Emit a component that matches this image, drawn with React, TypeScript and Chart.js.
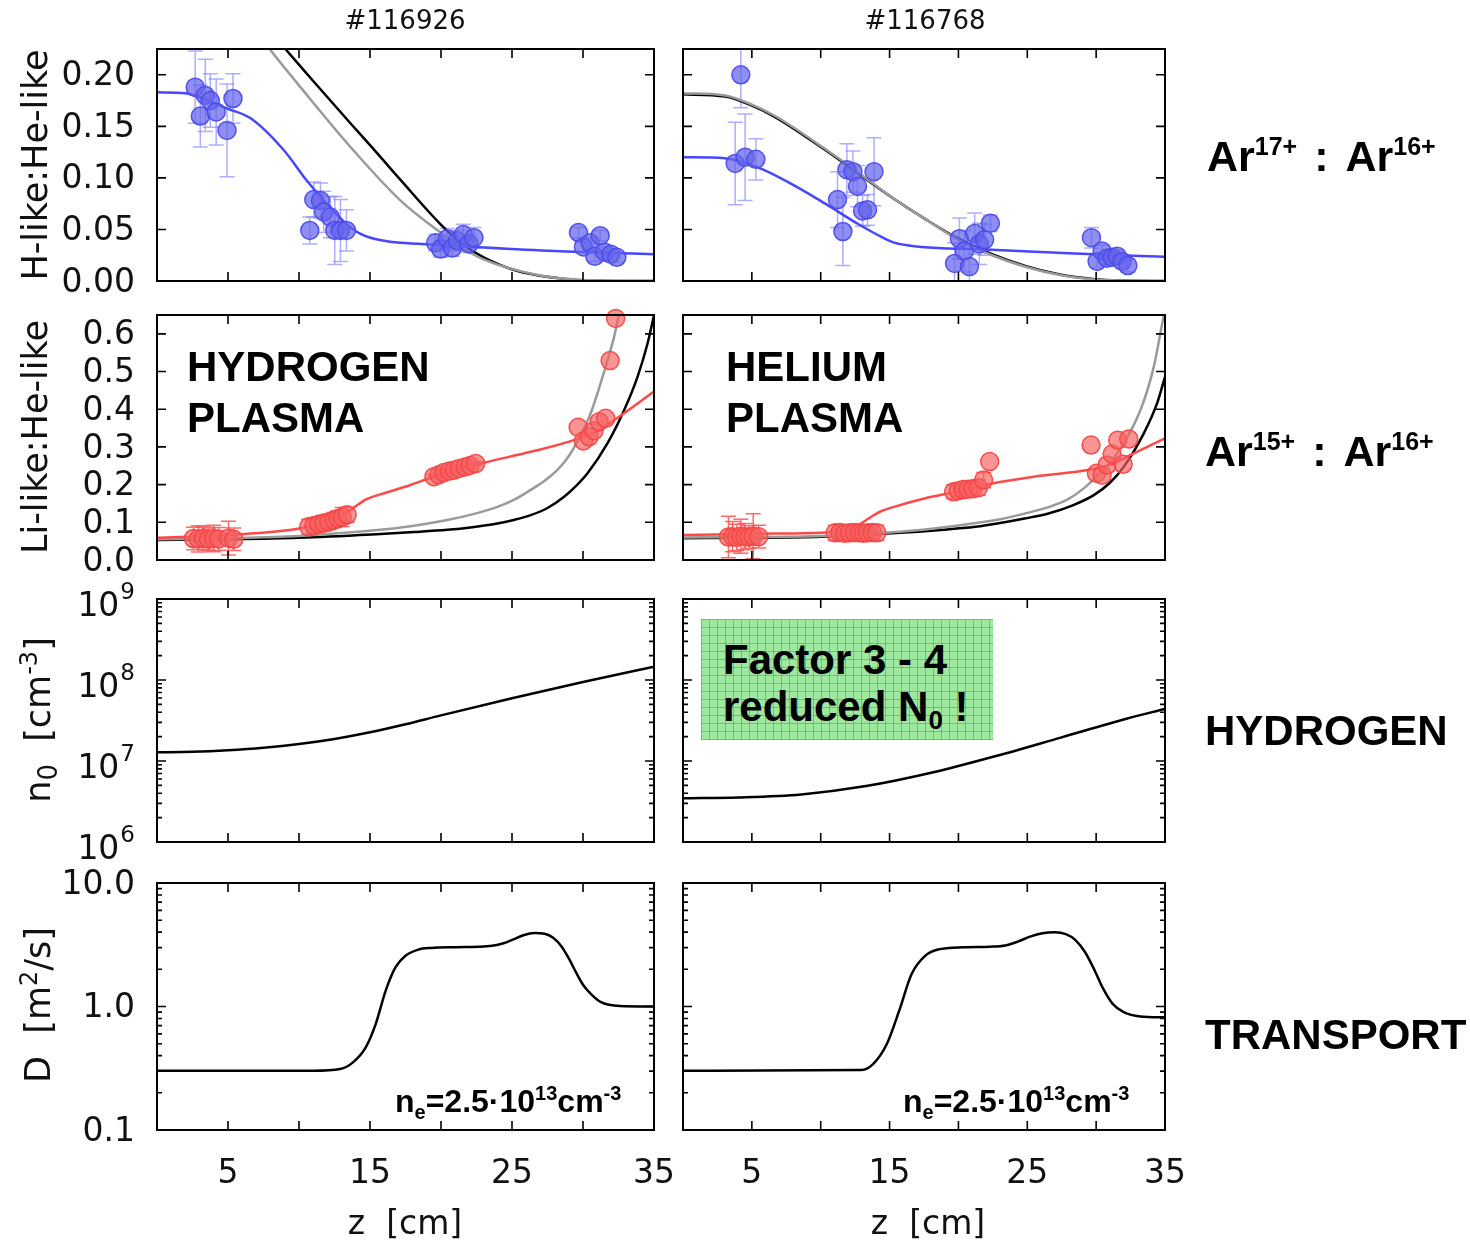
import React, { useEffect, useRef } from 'react';
import { Chart, registerables } from 'chart.js';

Chart.register(...registerables);

const W = 1470;
const H = 1244;

// ---------- axis values ----------
const zTickValues = [5, 10, 15, 20, 25, 30];
const zLabelValues = [5, 15, 25, 35];
const hTickValues = [0.05, 0.1, 0.15, 0.2];
const hLabelValues = [0, 0.05, 0.1, 0.15, 0.2];
const liTickValues = [0.1, 0.2, 0.3, 0.4, 0.5, 0.6];
const liLabelValues = [0, 0.1, 0.2, 0.3, 0.4, 0.5, 0.6];
const n0Decades = [1e6, 1e7, 1e8, 1e9];
const n0Exponents = ['6', '7', '8', '9'];
const dDecades = [0.1, 1, 10];
const dLabelTexts = ['0.1', '1.0', '10.0'];

// ---------- H-like : He-like, #116926 ----------
const hL_z = [2.69, 3.05, 3.4, 3.75, 4.17, 4.93, 5.35, 10.76, 11.04, 11.51, 11.74, 12.21, 12.52, 12.92, 13.34, 19.62, 19.97, 20.44, 20.8, 21.15, 21.57, 21.97, 22.32, 29.68, 30.03, 30.5, 30.83, 31.21, 31.54, 31.96, 32.38];
const hL_v = [0.188, 0.16, 0.18, 0.175, 0.164, 0.146, 0.177, 0.049, 0.079, 0.078, 0.067, 0.062, 0.049, 0.049, 0.049, 0.037, 0.031, 0.041, 0.032, 0.039, 0.045, 0.036, 0.042, 0.047, 0.033, 0.037, 0.024, 0.044, 0.028, 0.026, 0.023];
const hL_e = [0.035, 0.03, 0.035, 0.026, 0.032, 0.045, 0.024, 0.013, 0.017, 0.017, 0.02, 0.02, 0.033, 0.03, 0.02, 0.008, 0.008, 0.01, 0.008, 0.01, 0.01, 0.008, 0.01, 0.005, 0.005, 0.005, 0.005, 0.005, 0.005, 0.005, 0.005];
const hL_fitZ = [0, 2, 3, 5, 6.57, 8.92, 10.57, 12.21, 13.62, 14.3, 15.03, 16, 17.15, 20, 23, 28, 35];
const hL_fitV = [0.183, 0.182, 0.178, 0.167, 0.158, 0.127, 0.097, 0.071, 0.052, 0.046, 0.042, 0.039, 0.037, 0.035, 0.0325, 0.029, 0.026];
const hL_blackZ = [8, 9.04, 11, 13.62, 15.5, 17.15, 19.97, 21.5, 23, 25.4, 28.9, 31, 35];
const hL_blackV = [0.241, 0.225, 0.194, 0.153, 0.124, 0.098, 0.055, 0.036, 0.023, 0.0097, 0.0017, 0.0003, 0];
const hL_grayZ = [7, 7.93, 10.1, 13.62, 17.15, 19.97, 21.5, 23, 26.55, 30, 35];
const hL_grayV = [0.242, 0.225, 0.188, 0.13, 0.078, 0.047, 0.032, 0.021, 0.0065, 0.001, 0];

// ---------- H-like : He-like, #116768 ----------
const hR_z = [3.79, 4.2, 4.51, 5.29, 11.22, 11.61, 11.9, 12.34, 12.67, 13.04, 13.4, 13.87, 19.72, 20.07, 20.43, 20.8, 21.18, 21.52, 21.9, 22.32, 29.66, 30.07, 30.43, 30.8, 31.16, 31.53, 31.89, 32.3];
const hR_v = [0.114, 0.2, 0.12, 0.118, 0.079, 0.048, 0.108, 0.106, 0.092, 0.068, 0.069, 0.106, 0.017, 0.041, 0.029, 0.014, 0.046, 0.036, 0.04, 0.056, 0.042, 0.019, 0.029, 0.022, 0.023, 0.024, 0.019, 0.015];
const hR_e = [0.04, 0.032, 0.042, 0.02, 0.027, 0.033, 0.025, 0.02, 0.02, 0.015, 0.015, 0.033, 0.02, 0.02, 0.02, 0.02, 0.02, 0.02, 0.015, 0.008, 0.01, 0.006, 0.006, 0.006, 0.006, 0.006, 0.006, 0.006];
const hR_fitZ = [0, 3.06, 5.48, 7.9, 10.33, 12.75, 14.45, 15.4, 16.38, 18.5, 21.23, 28, 35];
const hR_fitV = [0.12, 0.119, 0.11, 0.094, 0.075, 0.055, 0.0425, 0.037, 0.0345, 0.032, 0.031, 0.027, 0.0234];
const hR_blackZ = [0, 3.06, 5, 6.69, 10.33, 12.75, 15.17, 17.6, 20, 22.44, 24.86, 27.28, 29.9, 32, 35];
const hR_blackV = [0.181, 0.179, 0.17, 0.159, 0.127, 0.104, 0.081, 0.06, 0.041, 0.026, 0.0146, 0.0065, 0.0018, 0.0005, 0];
const hR_grayZ = [0, 3.06, 5, 6.69, 10.33, 12.75, 15.17, 17.6, 20, 22.44, 24.86, 27.28, 29.9, 32, 35];
const hR_grayV = [0.182, 0.18, 0.171, 0.16, 0.128, 0.105, 0.081, 0.06, 0.04, 0.025, 0.0138, 0.006, 0.0015, 0.0004, 0];

// ---------- Li-like : He-like, #116926 ----------
const liL_z = [2.57, 2.92, 3.27, 3.63, 3.98, 4.34, 5.04, 5.4, 10.68, 11.05, 11.4, 11.75, 12.1, 12.45, 12.75, 13.05, 13.39, 19.5, 19.85, 20.2, 20.6, 20.95, 21.3, 21.7, 22.05, 22.44, 29.66, 30.03, 30.43, 30.78, 31.14, 31.6, 31.91, 32.3];
const liL_v = [0.057, 0.056, 0.058, 0.055, 0.057, 0.056, 0.058, 0.055, 0.088, 0.091, 0.095, 0.098, 0.101, 0.106, 0.11, 0.114, 0.12, 0.221, 0.226, 0.232, 0.236, 0.239, 0.243, 0.247, 0.251, 0.256, 0.352, 0.316, 0.327, 0.343, 0.367, 0.376, 0.529, 0.641];
const liL_e = [0.03, 0.035, 0.03, 0.03, 0.035, 0.03, 0.045, 0.03, 0.02, 0.02, 0.02, 0.02, 0.02, 0.02, 0.02, 0.025, 0.02, 0.005, 0.005, 0.005, 0.005, 0.005, 0.005, 0.005, 0.005, 0.005, 0, 0, 0, 0, 0, 0, 0, 0];
const liL_fitZ = [0, 4.92, 10.1, 12.68, 13.62, 14.8, 15.9, 17.85, 19.5, 22.8, 26.32, 29.37, 30.9, 32.19, 35];
const liL_fitV = [0.059, 0.066, 0.084, 0.111, 0.133, 0.162, 0.176, 0.199, 0.221, 0.256, 0.287, 0.318, 0.34, 0.371, 0.447];
const liL_blackZ = [0, 5, 10, 15.74, 18.1, 20.44, 22.2, 23.97, 25.2, 26.32, 27.5, 28.67, 29.5, 30.32, 31.73, 32.9, 33.84, 34.55, 35];
const liL_blackV = [0.053, 0.055, 0.059, 0.069, 0.074, 0.08, 0.087, 0.097, 0.107, 0.119, 0.138, 0.168, 0.196, 0.23, 0.31, 0.398, 0.486, 0.575, 0.65];
const liL_grayZ = [0, 5, 10, 15.74, 18.1, 20.44, 22.2, 23.97, 25.2, 26.32, 27.3, 28.2, 28.8, 29.37, 30.55, 31.49, 32.19, 32.55, 33];
const liL_grayV = [0.055, 0.058, 0.064, 0.08, 0.091, 0.106, 0.121, 0.141, 0.161, 0.186, 0.21, 0.239, 0.265, 0.298, 0.39, 0.5, 0.592, 0.654, 0.72];

// ---------- Li-like : He-like, #116768 ----------
const liR_z = [3.3, 3.6, 3.9, 4.2, 4.5, 4.8, 5.1, 5.5, 11.05, 11.4, 11.75, 12.1, 12.45, 12.8, 13.1, 13.4, 13.75, 14.08, 19.65, 20.0, 20.35, 20.7, 21.05, 21.45, 21.83, 22.27, 29.63, 30.02, 30.43, 30.8, 31.16, 31.57, 31.96, 32.37];
const liR_v = [0.061, 0.062, 0.06, 0.063, 0.062, 0.061, 0.063, 0.062, 0.072, 0.073, 0.071, 0.072, 0.073, 0.072, 0.071, 0.072, 0.073, 0.072, 0.181, 0.184, 0.187, 0.188, 0.189, 0.192, 0.212, 0.261, 0.305, 0.23, 0.225, 0.252, 0.281, 0.318, 0.254, 0.321];
const liR_e = [0.055, 0.04, 0.035, 0.045, 0.035, 0.03, 0.06, 0.03, 0.02, 0.02, 0.02, 0.02, 0.02, 0.02, 0.02, 0.02, 0.02, 0.02, 0.018, 0.015, 0.015, 0.015, 0.015, 0.02, 0.02, 0, 0, 0, 0, 0, 0, 0, 0, 0];
const liR_fitZ = [0, 6.69, 11, 12.6, 13.47, 14.3, 15.5, 17.6, 20, 22.44, 25.47, 29.6, 31.2, 32.25, 35];
const liR_fitV = [0.066, 0.07, 0.075, 0.09, 0.11, 0.128, 0.143, 0.164, 0.182, 0.203, 0.221, 0.24, 0.255, 0.274, 0.323];
const liR_blackZ = [0, 5, 10, 15.78, 18.5, 21.23, 23.03, 24.8, 26.6, 28.3, 29.83, 31, 32, 33.46, 34.43, 35];
const liR_blackV = [0.058, 0.059, 0.062, 0.072, 0.079, 0.088, 0.098, 0.11, 0.124, 0.145, 0.172, 0.205, 0.247, 0.336, 0.416, 0.486];
const liR_grayZ = [0, 5, 10, 15.78, 19.4, 23.03, 24.8, 26.6, 27.9, 29.1, 30.4, 31.53, 33.22, 34.19, 34.8, 35.2];
const liR_grayV = [0.06, 0.061, 0.064, 0.075, 0.089, 0.108, 0.123, 0.141, 0.16, 0.19, 0.236, 0.283, 0.398, 0.513, 0.628, 0.7];

// ---------- neutral density n0 ----------
const n0L_z = [0, 2.5, 5, 7.5, 10, 12.5, 15, 17.5, 20, 25, 30, 35];
const n0L_v = [1.28e7, 1.3e7, 1.36e7, 1.46e7, 1.62e7, 1.87e7, 2.26e7, 2.84e7, 3.66e7, 5.96e7, 9.44e7, 1.46e8];
const n0R_z = [0, 4, 8.6, 13.3, 18.1, 22.8, 27.5, 32.2, 35];
const n0R_v = [3.46e6, 3.55e6, 3.87e6, 4.9e6, 7.2e6, 1.16e7, 1.96e7, 3.32e7, 4.4e7];

// ---------- transport D ----------
const dL_z = [0, 11, 12.9, 13.8, 14.7, 15.4, 16.1, 16.8, 17.5, 18.4, 19.3, 21.1, 22.6, 23.6, 24.4, 25.1, 25.8, 26.6, 27.3, 27.9, 28.5, 29.0, 29.5, 30.0, 30.6, 31.3, 32.6, 35];
const dL_v = [0.302, 0.302, 0.312, 0.353, 0.467, 0.721, 1.34, 2.08, 2.58, 2.89, 2.98, 3.02, 3.04, 3.1, 3.25, 3.5, 3.78, 3.93, 3.88, 3.6, 3.05, 2.45, 1.9, 1.5, 1.25, 1.08, 1.01, 1.0];
const dR_z = [0, 12.9, 13.8, 14.8, 15.7, 16.6, 17.6, 18.5, 20.4, 22.3, 23.4, 24.3, 25.2, 26.1, 27.0, 27.8, 28.5, 29.2, 29.9, 30.5, 31.2, 32.0, 33.2, 35];
const dR_v = [0.302, 0.306, 0.342, 0.497, 0.925, 1.83, 2.58, 2.89, 3.02, 3.05, 3.12, 3.35, 3.68, 3.92, 3.99, 3.85, 3.45, 2.75, 1.95, 1.4, 1.05, 0.9, 0.83, 0.817];

// ---------- layout (plot rectangles) ----------
const COLS = [
  { l: 157, r: 654 },
  { l: 683, r: 1165 },
];
const ROWS = [
  { t: 49, b: 281 },
  { t: 315, b: 560 },
  { t: 599, b: 842 },
  { t: 883, b: 1130 },
];

const BLUE_LINE = '#4646ff';
const BLUE_FILL = 'rgba(100,100,236,0.72)';
const BLUE_EDGE = 'rgba(75,75,235,0.95)';
const BLUE_ERR = 'rgba(120,120,255,0.6)';
const RED_LINE = '#ff4848';
const RED_FILL = 'rgba(246,98,98,0.68)';
const RED_EDGE = 'rgba(244,70,70,0.95)';
const RED_ERR = 'rgba(255,80,80,0.85)';
const GRAY_LINE = '#9a9a9a';
const BLACK_LINE = '#000000';

type SeriesDef = {
  kind: 'line' | 'points';
  z: number[];
  v: number[];
  e?: number[];
  color: string;
  fill?: string;
  errColor?: string;
  order: number;
};

type YLabel = { v: number; text: string; exp?: string };

type PanelDef = {
  col: number;
  row: number;
  yType: 'linear' | 'logarithmic';
  yMin: number;
  yMax: number;
  yTicks: number[];
  logMinor: boolean;
  yLabels: YLabel[] | null;
  xLabels: boolean;
  series: SeriesDef[];
};

const line = (z: number[], v: number[], color: string, order: number): SeriesDef => ({ kind: 'line', z, v, color, order });
const pts = (z: number[], v: number[], e: number[], color: string, fill: string, errColor: string): SeriesDef => ({
  kind: 'points', z, v, e, color, fill, errColor, order: 0,
});

const hLabels: YLabel[] = hLabelValues.map((v) => ({ v, text: v.toFixed(2) }));
const liLabels: YLabel[] = liLabelValues.map((v) => ({ v, text: v.toFixed(1) }));
const n0Labels: YLabel[] = n0Decades.map((v, i) => ({ v, text: '10', exp: n0Exponents[i] }));
const dLabels: YLabel[] = dDecades.map((v, i) => ({ v, text: dLabelTexts[i] }));

const PANELS: PanelDef[] = [
  {
    col: 0, row: 0, yType: 'linear', yMin: 0, yMax: 0.225, yTicks: hTickValues, logMinor: false, yLabels: hLabels, xLabels: false,
    series: [
      line(hL_blackZ, hL_blackV, BLACK_LINE, 3),
      line(hL_grayZ, hL_grayV, GRAY_LINE, 2),
      line(hL_fitZ, hL_fitV, BLUE_LINE, 1),
      pts(hL_z, hL_v, hL_e, BLUE_EDGE, BLUE_FILL, BLUE_ERR),
    ],
  },
  {
    col: 1, row: 0, yType: 'linear', yMin: 0, yMax: 0.225, yTicks: hTickValues, logMinor: false, yLabels: null, xLabels: false,
    series: [
      line(hR_blackZ, hR_blackV, BLACK_LINE, 3),
      line(hR_grayZ, hR_grayV, GRAY_LINE, 2),
      line(hR_fitZ, hR_fitV, BLUE_LINE, 1),
      pts(hR_z, hR_v, hR_e, BLUE_EDGE, BLUE_FILL, BLUE_ERR),
    ],
  },
  {
    col: 0, row: 1, yType: 'linear', yMin: 0, yMax: 0.65, yTicks: liTickValues, logMinor: false, yLabels: liLabels, xLabels: false,
    series: [
      line(liL_blackZ, liL_blackV, BLACK_LINE, 3),
      line(liL_grayZ, liL_grayV, GRAY_LINE, 2),
      line(liL_fitZ, liL_fitV, RED_LINE, 1),
      pts(liL_z, liL_v, liL_e, RED_EDGE, RED_FILL, RED_ERR),
    ],
  },
  {
    col: 1, row: 1, yType: 'linear', yMin: 0, yMax: 0.65, yTicks: liTickValues, logMinor: false, yLabels: null, xLabels: false,
    series: [
      line(liR_blackZ, liR_blackV, BLACK_LINE, 3),
      line(liR_grayZ, liR_grayV, GRAY_LINE, 2),
      line(liR_fitZ, liR_fitV, RED_LINE, 1),
      pts(liR_z, liR_v, liR_e, RED_EDGE, RED_FILL, RED_ERR),
    ],
  },
  {
    col: 0, row: 2, yType: 'logarithmic', yMin: 1e6, yMax: 1e9, yTicks: n0Decades, logMinor: true, yLabels: n0Labels, xLabels: false,
    series: [line(n0L_z, n0L_v, BLACK_LINE, 1)],
  },
  {
    col: 1, row: 2, yType: 'logarithmic', yMin: 1e6, yMax: 1e9, yTicks: n0Decades, logMinor: true, yLabels: null, xLabels: false,
    series: [line(n0R_z, n0R_v, BLACK_LINE, 1)],
  },
  {
    col: 0, row: 3, yType: 'logarithmic', yMin: 0.1, yMax: 10, yTicks: dDecades, logMinor: true, yLabels: dLabels, xLabels: true,
    series: [line(dL_z, dL_v, BLACK_LINE, 1)],
  },
  {
    col: 1, row: 3, yType: 'logarithmic', yMin: 0.1, yMax: 10, yTicks: dDecades, logMinor: true, yLabels: null, xLabels: true,
    series: [line(dR_z, dR_v, BLACK_LINE, 1)],
  },
];

const TICK_FONT = '"DejaVu Sans", Verdana, sans-serif';
const BOLD_FONT = '"Liberation Sans", Arial, Helvetica, sans-serif';

const errorBarPlugin = {
  id: 'errorBars',
  beforeDatasetsDraw(chart: any) {
    const { ctx, chartArea: a, scales } = chart;
    const xs = scales.x;
    const ys = scales.y;
    ctx.save();
    ctx.beginPath();
    ctx.rect(a.left, a.top, a.right - a.left, a.bottom - a.top);
    ctx.clip();
    chart.data.datasets.forEach((ds: any) => {
      if (!ds.errors) return;
      ctx.strokeStyle = ds.errColor;
      ctx.lineWidth = 1.5;
      ds.data.forEach((p: any, i: number) => {
        const e = ds.errors[i];
        if (!e) return;
        const px = xs.getPixelForValue(p.x);
        const y1 = ys.getPixelForValue(p.y - e);
        const y2 = ys.getPixelForValue(p.y + e);
        ctx.beginPath();
        ctx.moveTo(px, y1);
        ctx.lineTo(px, y2);
        ctx.moveTo(px - 7.5, y1);
        ctx.lineTo(px + 7.5, y1);
        ctx.moveTo(px - 7.5, y2);
        ctx.lineTo(px + 7.5, y2);
        ctx.stroke();
      });
    });
    ctx.restore();
  },
};

const makeFramePlugin = (p: PanelDef) => ({
  id: 'frame',
  afterDraw(chart: any) {
    const { ctx, chartArea: a, scales } = chart;
    const xs = scales.x;
    const ys = scales.y;
    ctx.save();
    ctx.strokeStyle = '#000';
    ctx.lineWidth = 1.6;
    ctx.beginPath();
    for (const t of zTickValues) {
      const px = xs.getPixelForValue(t);
      ctx.moveTo(px, a.bottom);
      ctx.lineTo(px, a.bottom - 9);
      ctx.moveTo(px, a.top);
      ctx.lineTo(px, a.top + 9);
    }
    for (const t of p.yTicks) {
      const py = ys.getPixelForValue(t);
      ctx.moveTo(a.left, py);
      ctx.lineTo(a.left + 9, py);
      ctx.moveTo(a.right, py);
      ctx.lineTo(a.right - 9, py);
    }
    if (p.logMinor) {
      for (let d = p.yMin; d < p.yMax * 0.999; d *= 10) {
        for (let m = 2; m <= 9; m++) {
          const py = ys.getPixelForValue(d * m);
          ctx.moveTo(a.left, py);
          ctx.lineTo(a.left + 5, py);
          ctx.moveTo(a.right, py);
          ctx.lineTo(a.right - 5, py);
        }
      }
    }
    ctx.stroke();
    ctx.lineWidth = 2;
    ctx.strokeRect(a.left, a.top, a.right - a.left, a.bottom - a.top);

    ctx.fillStyle = '#111';
    const labelRight = a.left - 22;
    if (p.yLabels) {
      for (const lab of p.yLabels) {
        const py = ys.getPixelForValue(lab.v);
        if (lab.exp) {
          ctx.font = `23px ${TICK_FONT}`;
          const w2 = ctx.measureText(lab.exp).width;
          ctx.textAlign = 'left';
          ctx.textBaseline = 'middle';
          ctx.fillText(lab.exp, labelRight - w2, py - 6);
          ctx.font = `33px ${TICK_FONT}`;
          ctx.textAlign = 'right';
          ctx.fillText(lab.text, labelRight - w2 - 1, py + 8);
        } else {
          ctx.font = `33px ${TICK_FONT}`;
          ctx.textAlign = 'right';
          ctx.textBaseline = 'middle';
          ctx.fillText(lab.text, labelRight, py + 2);
        }
      }
    }
    if (p.xLabels) {
      ctx.font = `33px ${TICK_FONT}`;
      ctx.textAlign = 'center';
      ctx.textBaseline = 'middle';
      for (const t of zLabelValues) {
        ctx.fillText(String(t), xs.getPixelForValue(t), a.bottom + 44);
      }
    }
    ctx.restore();
  },
});

function toDataset(s: SeriesDef) {
  const data = s.z.map((z, i) => ({ x: z, y: s.v[i] }));
  if (s.kind === 'line') {
    return {
      data,
      borderColor: s.color,
      borderWidth: 2.5,
      pointRadius: 0,
      fill: false,
      cubicInterpolationMode: 'monotone',
      order: s.order,
    } as any;
  }
  return {
    data,
    showLine: false,
    pointRadius: 9,
    pointBackgroundColor: s.fill,
    pointBorderColor: s.color,
    pointBorderWidth: 1.5,
    order: 0,
    clip: 12,
    errors: s.e,
    errColor: s.errColor,
  } as any;
}

function Panel({ def }: { def: PanelDef }) {
  const ref = useRef<HTMLCanvasElement>(null);
  useEffect(() => {
    const canvas = ref.current;
    if (!canvas) return;
    const col = COLS[def.col];
    const row = ROWS[def.row];
    const chart = new Chart(canvas, {
      type: 'line',
      data: { datasets: def.series.map(toDataset) },
      options: {
        responsive: false,
        animation: false,
        devicePixelRatio: 1,
        events: [],
        layout: { padding: { left: col.l, right: W - col.r, top: row.t, bottom: H - row.b } },
        plugins: { legend: { display: false }, tooltip: { enabled: false } },
        scales: {
          x: { type: 'linear', min: 0, max: 35, display: false },
          y: { type: def.yType, min: def.yMin, max: def.yMax, display: false },
        },
      } as any,
      plugins: [errorBarPlugin, makeFramePlugin(def)],
    });
    return () => chart.destroy();
  }, [def]);
  return (
    <canvas
      ref={ref}
      width={W}
      height={H}
      style={{ position: 'absolute', left: 0, top: 0, width: W, height: H }}
    />
  );
}

const abs = (left: number, top: number, extra: React.CSSProperties = {}): React.CSSProperties => ({
  position: 'absolute',
  left,
  top,
  whiteSpace: 'pre',
  lineHeight: 1,
  color: '#111',
  ...extra,
});

const centered = (x: number, y: number, size: number, extra: React.CSSProperties = {}): React.CSSProperties =>
  abs(x, y, { transform: 'translate(-50%, -50%)', fontFamily: TICK_FONT, fontSize: size, ...extra });

const rotated = (x: number, y: number, size: number): React.CSSProperties =>
  abs(x, y, { transform: 'translate(-50%, -50%) rotate(-90deg)', fontFamily: TICK_FONT, fontSize: size });

const bold = (left: number, baseline: number, size: number, extra: React.CSSProperties = {}): React.CSSProperties =>
  abs(left, baseline - 0.85 * size, { fontFamily: BOLD_FONT, fontWeight: 'bold', fontSize: size, color: '#000', ...extra });

const sup = (size: number, shift: number): React.CSSProperties => ({ fontSize: size, position: 'relative', top: shift });
const colon: React.CSSProperties = { margin: '0 5px' };

export default function App() {
  return (
    <div style={{ position: 'absolute', left: 0, top: 0, width: W, height: H, background: '#fff', overflow: 'hidden' }}>
      {PANELS.map((p, i) => (
        <Panel key={i} def={p} />
      ))}

      {/* column titles */}
      <div style={centered(405, 20, 26)}>#116926</div>
      <div style={centered(925, 20, 26)}>#116768</div>

      {/* x axis titles */}
      <div style={centered(405, 1222, 33)}>{'z  [cm]'}</div>
      <div style={centered(928, 1222, 33)}>{'z  [cm]'}</div>

      {/* y axis titles */}
      <div style={rotated(35, 165, 35)}>H-like:He-like</div>
      <div style={rotated(35, 437, 35)}>Li-like:He-like</div>
      <div style={rotated(38, 720, 35)}>
        n<span style={sup(26, 7)}>0</span>
        {'  [cm'}
        <span style={sup(24, -13)}>-3</span>]
      </div>
      <div style={rotated(38, 1005, 35)}>
        {'D  [m'}
        <span style={sup(24, -13)}>2</span>/s]
      </div>

      {/* in-panel labels */}
      <div style={bold(187, 382, 42)}>HYDROGEN</div>
      <div style={bold(187, 433, 42)}>PLASMA</div>
      <div style={bold(726, 382, 42)}>HELIUM</div>
      <div style={bold(726, 433, 42)}>PLASMA</div>

      {/* green note */}
      <div
        style={{
          position: 'absolute',
          left: 701,
          top: 619,
          width: 292,
          height: 121,
          backgroundColor: '#9fe89f',
          backgroundImage:
            'linear-gradient(rgba(40,175,40,0.5) 1px, transparent 1px), linear-gradient(90deg, rgba(40,175,40,0.5) 1px, transparent 1px)',
          backgroundSize: '8px 8px',
        }}
      />
      <div style={bold(723, 675, 42)}>Factor 3 - 4</div>
      <div style={bold(723, 722, 42)}>
        reduced N<span style={sup(26, 8)}>0</span> !
      </div>

      {/* density notes */}
      <div style={bold(395, 1112, 32)}>
        n<span style={sup(20, 7)}>e</span>=2.5·10<span style={sup(20, -12)}>13</span>cm<span style={sup(20, -12)}>-3</span>
      </div>
      <div style={bold(903, 1112, 32)}>
        n<span style={sup(20, 7)}>e</span>=2.5·10<span style={sup(20, -12)}>13</span>cm<span style={sup(20, -12)}>-3</span>
      </div>

      {/* right-hand row labels */}
      <div style={bold(1207, 172, 43)}>
        Ar<span style={sup(25, -16)}>17+</span>
        <span style={colon}>{' : '}</span>Ar<span style={sup(25, -16)}>16+</span>
      </div>
      <div style={bold(1205, 467, 43)}>
        Ar<span style={sup(25, -16)}>15+</span>
        <span style={colon}>{' : '}</span>Ar<span style={sup(25, -16)}>16+</span>
      </div>
      <div style={bold(1205, 746, 42)}>HYDROGEN</div>
      <div style={bold(1205, 1050, 42)}>TRANSPORT</div>
    </div>
  );
}
